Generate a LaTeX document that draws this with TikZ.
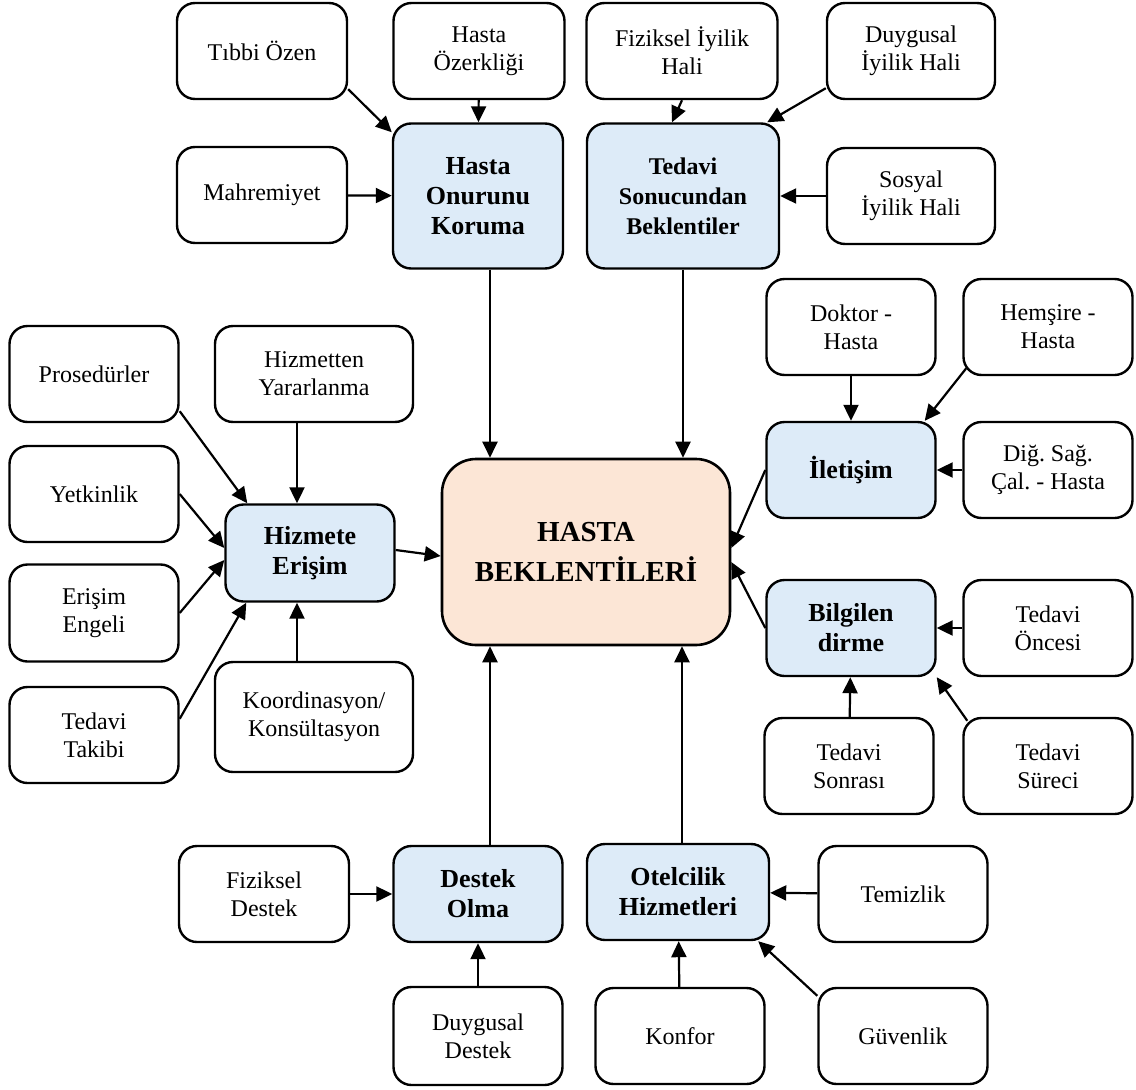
\documentclass[tikz,border=0pt]{standalone}
\usepackage{fontspec}
\setmainfont{Liberation Serif}
\usepackage{tikz}
\usetikzlibrary{positioning,arrows.meta}
\definecolor{themeblue}{HTML}{DDEBF8}
\definecolor{hubpeach}{HTML}{FCE6D6}
\newcommand{\leaffont}{\fontsize{24}{28}\selectfont}
\newcommand{\themefont}{\fontsize{26}{30}\selectfont\bfseries}
\newcommand{\hubfont}{\fontsize{29}{40}\selectfont\bfseries}
\frenchspacing

\begin{document}
\begin{tikzpicture}[x=1pt,y=-1pt,
    leaf/.style={draw, line width=2.4pt, rounded corners=18pt, fill=white, align=center, inner sep=0pt, minimum width=169pt, minimum height=96pt, font=\leaffont},
    theme/.style={leaf, fill=themeblue, font=\themefont},
    hub/.style={draw, line width=2.6pt, rounded corners=34pt, fill=hubpeach, align=center, inner sep=0pt, minimum width=288pt, minimum height=186pt, font=\hubfont},
    arr/.style={-{Triangle[length=16pt,width=15pt]}, line width=2.2pt}]
    \useasboundingbox (0,0) rectangle (1136,1090);

    % central box
    \node[hub] (hb) at (586,552) {HASTA\\BEKLENTİLERİ};

    % top left group
    \node[theme, minimum width=170pt, minimum height=145pt] (hok) at (478,196) {Hasta\\Onurunu\\Koruma};
    \node[leaf, minimum width=170pt] (tibbi) at (262,51) {Tıbbi Özen};
    \node[leaf, minimum width=171pt] (ozerk) at (479,51) {Hasta\\Özerkliği};
    \node[leaf, minimum width=170pt] (mahrem) at (262,195) {Mahremiyet};

    % top right group
    \node[theme, minimum width=192pt, minimum height=145pt, font=\fontsize{24}{30}\selectfont\bfseries] (tsb) at (683,196) {Tedavi\\Sonucundan\\Beklentiler};
    \node[leaf, minimum width=191pt] (fiz) at (682,51) {Fiziksel İyilik\\Hali};
    \node[leaf, minimum width=168pt] (duyg) at (911,51) {Duygusal\\İyilik Hali};
    \node[leaf, minimum width=168pt] (sosyal) at (911,196) {Sosyal\\İyilik Hali};

    % left group
    \node[theme, minimum height=97pt] (hizm) at (310,553) {Hizmete\\Erişim};
    \node[leaf] (prosed) at (94,374) {Prosedürler};
    \node[leaf, minimum width=198pt] (yarar) at (314,374) {Hizmetten\\Yararlanma};
    \node[leaf] (yetkin) at (94,494) {Yetkinlik};
    \node[leaf, minimum height=97pt] (engel) at (94,613) {Erişim\\Engeli};
    \node[leaf] (takip) at (94,735) {Tedavi\\Takibi};
    \node[leaf, minimum width=198pt, minimum height=110pt] (koord) at (314,717) {Koordinasyon/\\Konsültasyon};

    % right group
    \node[theme] (ilet) at (851,470) {İletişim};
    \node[leaf] (doktor) at (851,327) {Doktor -\\Hasta};
    \node[leaf] (hemsire) at (1048,327) {Hemşire -\\Hasta};
    \node[leaf] (digsag) at (1048,470) {Diğ. Sağ.\\Çal. - Hasta};
    \node[theme] (bilgi) at (851,628) {Bilgilen\\dirme};
    \node[leaf] (oncesi) at (1048,628) {Tedavi\\Öncesi};
    \node[leaf] (sonrasi) at (849,766) {Tedavi\\Sonrası};
    \node[leaf] (sureci) at (1048,766) {Tedavi\\Süreci};

    % bottom group
    \node[theme] (destek) at (478,894) {Destek\\Olma};
    \node[leaf, minimum width=170pt] (fdestek) at (264,894) {Fiziksel\\Destek};
    \node[leaf, minimum height=98pt] (ddestek) at (478,1036) {Duygusal\\Destek};
    \node[theme, minimum width=182pt] (otel) at (678,892) {Otelcilik\\Hizmetleri};
    \node[leaf] (temiz) at (903,894) {Temizlik};
    \node[leaf] (konfor) at (680,1036) {Konfor};
    \node[leaf] (guven) at (903,1036) {Güvenlik};

    % straight links
    \foreach \a/\b in {ozerk/hok, mahrem/hok, sosyal/tsb, doktor/ilet, digsag/ilet, oncesi/bilgi, sonrasi/bilgi, fdestek/destek, ddestek/destek, temiz/otel, konfor/otel}
        \draw[arr] (\a) -- (\b);

    % slanted links
    \draw[arr] ([yshift=11pt]tibbi.south east) -- ([yshift=-10pt]hok.north west);
    \draw[arr] (fiz.south) -- ([xshift=-11pt]tsb.north);
    \draw[arr] ([yshift=12pt]duyg.south west) -- ([xshift=-13pt]tsb.north east);
    \draw[arr] ([yshift=12pt]prosed.south east) -- ([xshift=23pt]hizm.north west);
    \draw[arr] (yetkin.east) -- ([yshift=5pt]hizm.west);
    \draw[arr] (engel.east) -- ([yshift=-7pt]hizm.west);
    \draw[arr] ([yshift=-33pt]takip.north east) -- ([xshift=22pt]hizm.south west);
    \draw[arr] ([xshift=-17pt]yarar.south) -- ([xshift=-17pt]yarar.south |- hizm.north);
    \draw[arr] ([xshift=-17pt]koord.north) -- ([xshift=-17pt]koord.north |- hizm.south);
    \draw[arr] ([xshift=4pt,yshift=8pt]hemsire.south west) -- ([xshift=-12pt]ilet.north east);
    \draw[arr] ([xshift=5pt,yshift=-4pt]sureci.north west) -- (bilgi.south east);
    \draw[arr] ([yshift=-9pt]guven.north west) -- ([xshift=-12pt]otel.south east);

    % into the central box
    \draw[arr] ([xshift=12pt]hok.south) -- ([xshift=12pt]hok.south |- hb.north);
    \draw[arr] (tsb.south) -- (tsb.south |- hb.north);
    \draw[arr] ([yshift=3pt]hizm.east) -- ([yshift=-4pt]hb.west);
    \draw[arr] (ilet.west) -- ([yshift=4pt]hb.east);
    \draw[arr] (bilgi.west) -- ([yshift=-10pt]hb.east);
    \draw[arr] ([xshift=12pt]destek.north) -- ([xshift=12pt]destek.north |- hb.south);
    \draw[arr] ([xshift=4pt]otel.north) -- ([xshift=4pt]otel.north |- hb.south);
\end{tikzpicture}
\end{document}
